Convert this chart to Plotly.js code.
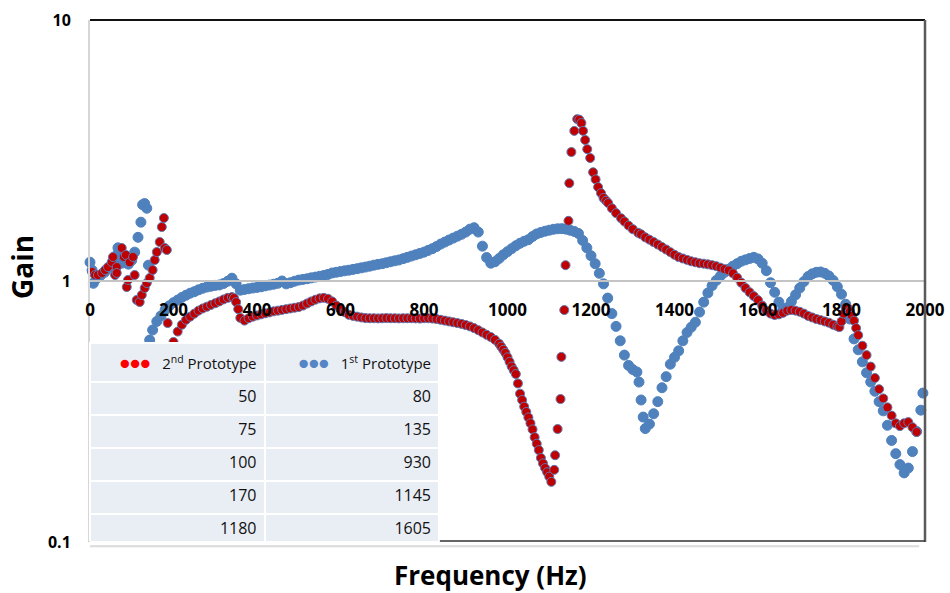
<!DOCTYPE html>
<html>
<head>
<meta charset="utf-8">
<script src="https://cdn.plot.ly/plotly-3.0.1.min.js"></script>
<style>html,body{margin:0;padding:0;background:#fff;}#chart{width:950px;height:593px;}</style>
</head>
<body>
<div id="chart"></div>
<script>
// 1st Prototype (blue)
const freq1st = [
  0,5,8,15,25,35,45,55,62,67,
  72,76,84,92,100,107,115,122,126,131,
  136,140,143,
  150,160,170,180,190,200,210,220,230,240,
  250,260,270,280,290,300,310,320,330,340,
  350,360,370,380,390,400,410,420,430,440,
  450,460,470,480,490,500,510,520,530,540,
  550,560,570,580,590,600,610,620,630,640,
  650,660,670,680,690,700,710,720,730,740,
  750,760,770,780,790,800,810,820,830,840,
  850,860,870,880,890,900,910,920,930,940,
  950,960,970,980,990,1000,1010,1020,1030,1040,
  1050,1060,1070,1080,1090,1100,1110,1120,1130,1140,
  1150,1160,1170,1180,1190,1200,1210,1220,1230,1240,
  1250,1260,1270,1280,1290,1300,1310,
  1315,1320,1325,1330,
  1340,1350,1360,1370,1380,1390,1400,1410,1420,1430,
  1440,1450,1460,1470,1480,1490,1500,1510,1520,1530,
  1540,1550,1560,1570,1580,1590,1600,1610,1620,1630,
  1640,1650,1660,1670,1680,1690,1700,1710,1720,1730,
  1740,1750,1760,1770,1780,1790,1800,1810,1820,1830,
  1840,1850,1860,1870,1880,1890,1900,1910,1920,1930,
  1940,1950,1960,1970,1980,1990,
  1995
];
const gain1st = [
  1.18,1.10,0.98,1.02,1.05,1.08,1.12,1.17,1.25,1.34,
  1.28,1.17,1.22,1.16,1.20,1.29,1.47,1.68,1.96,1.98,
  1.90,1.15,0.594,
  0.649,0.70,0.735,0.775,0.803,0.826,0.845,0.865,0.882,0.898,
  0.910,0.925,0.938,0.948,0.955,0.962,0.966,0.978,0.998,1.025,
  0.975,0.922,0.928,0.934,0.940,0.945,0.950,0.958,0.965,0.972,
  0.980,1.000,0.975,0.985,0.998,1.008,1.014,1.020,1.028,1.035,
  1.042,1.050,1.060,1.073,1.080,1.087,1.094,1.100,1.108,1.115,
  1.123,1.131,1.140,1.150,1.158,1.165,1.175,1.185,1.195,1.204,
  1.218,1.232,1.246,1.260,1.275,1.290,1.310,1.330,1.355,1.385,
  1.410,1.435,1.460,1.485,1.510,1.540,1.580,1.600,1.540,1.360,
  1.230,1.170,1.185,1.220,1.260,1.295,1.330,1.365,1.395,1.420,
  1.440,1.480,1.515,1.535,1.552,1.565,1.578,1.585,1.587,1.580,
  1.565,1.548,1.520,1.430,1.340,1.250,1.165,1.070,0.975,0.860,
  0.750,0.670,0.590,0.520,0.475,0.458,0.448,
  0.410,0.350,0.301,0.272,
  0.283,0.310,0.345,0.390,0.430,0.480,0.510,0.540,0.590,0.635,
  0.665,0.695,0.760,0.830,0.900,0.960,1.005,1.045,1.080,1.110,
  1.140,1.165,1.190,1.205,1.220,1.232,1.215,1.170,1.095,0.985,
  0.905,0.830,0.780,0.790,0.835,0.885,0.940,0.995,1.040,1.065,
  1.080,1.083,1.070,1.045,1.005,0.950,0.890,0.815,0.715,0.600,
  0.545,0.490,0.445,0.410,0.378,0.345,0.318,0.280,0.245,0.218,
  0.198,0.184,0.192,0.222,0.265,0.320,
  0.372
];

// 2nd Prototype (red)
const freq2nd = [
  5,12,19,29,36,43,52,55,60,64,
  64,76,81,86,88,91,95,103,107,112,
  119,124,131,136,143,150,155,160,167,172,
  177,179,184,
  186,200,210,220,230,240,250,260,270,280,
  290,300,310,320,330,340,345,350,355,360,
  370,380,390,400,410,420,430,440,450,460,
  470,480,490,500,510,520,530,540,550,560,
  570,580,590,600,610,620,630,640,650,660,
  670,680,690,700,710,720,730,740,750,760,
  770,780,790,800,810,820,830,840,850,860,
  870,880,890,900,910,920,930,940,950,960,
  970,980,985,990,995,1000,1005,1010,1015,1020,
  1025,1030,1035,1040,1045,1050,1055,1060,1065,1070,
  1075,1080,1085,1090,1095,1100,1105,1112,1114,1120,
  1127,1129,1136,1139,1146,1148,1153,1160,1167,1172,
  1177,1181,1186,1191,1198,1205,1211,1217,1224,1230,
  1236,1241,1250,1260,1272,1280,1290,1300,1313,1320,
  1330,1340,1350,1360,1370,1380,1390,1400,1410,1420,
  1430,1440,1450,1460,1470,1480,1490,1500,1510,1520,
  1530,1540,1550,1560,1570,1580,1590,1600,1610,1620,
  1630,1640,1650,1660,1670,1680,1690,1700,1710,1720,
  1730,1740,1750,1760,1770,1780,1790,1795,1800,1805,
  1810,1815,1820,1825,1830,1835,1840,1850,1860,1870,
  1880,1890,1900,1910,1920,1930,1940,1950,1960,1970,
  1980
];
const gain2nd = [
  1.083,1.054,1.054,1.073,1.102,1.131,1.182,1.236,1.054,1.131,
  1.073,1.338,1.236,1.258,0.948,1.009,1.18,1.236,1.054,0.846,
  0.831,0.884,0.940,0.982,1.027,1.102,1.204,1.291,1.411,1.61,
  1.743,1.338,1.315,
  0.69,0.584,0.64,0.68,0.71,0.73,0.75,0.77,0.785,0.797,
  0.81,0.822,0.835,0.85,0.862,0.868,0.86,0.83,0.78,0.722,
  0.705,0.72,0.73,0.738,0.745,0.752,0.758,0.765,0.77,0.775,
  0.78,0.785,0.79,0.795,0.805,0.82,0.835,0.848,0.858,0.862,
  0.855,0.835,0.805,0.78,0.76,0.742,0.735,0.73,0.725,0.721,
  0.72,0.72,0.719,0.72,0.721,0.72,0.72,0.719,0.72,0.72,
  0.72,0.719,0.718,0.72,0.72,0.718,0.715,0.71,0.705,0.70,
  0.695,0.69,0.685,0.678,0.67,0.66,0.648,0.635,0.622,0.61,
  0.595,0.575,0.56,0.545,0.53,0.51,0.49,0.47,0.455,0.44,
  0.405,0.37,0.35,0.33,0.315,0.30,0.285,0.27,0.252,0.238,
  0.225,0.21,0.2,0.192,0.185,0.178,0.17,0.189,0.215,0.271,
  0.353,0.512,0.774,1.15,1.70,2.37,3.12,3.76,4.17,4.15,
  4.03,3.76,3.47,3.20,2.96,2.61,2.45,2.29,2.17,2.08,
  2.03,1.99,1.90,1.82,1.74,1.69,1.63,1.58,1.53,1.51,
  1.47,1.44,1.41,1.38,1.35,1.32,1.29,1.26,1.235,1.22,
  1.205,1.19,1.18,1.17,1.165,1.158,1.15,1.14,1.125,1.11,
  1.098,1.07,1.03,0.985,0.94,0.905,0.875,0.845,0.805,0.77,
  0.75,0.741,0.745,0.755,0.77,0.774,0.77,0.762,0.75,0.735,
  0.725,0.715,0.708,0.70,0.692,0.68,0.67,0.666,0.70,0.75,
  0.79,0.788,0.765,0.735,0.705,0.66,0.62,0.565,0.52,0.47,
  0.425,0.385,0.355,0.328,0.305,0.285,0.278,0.285,0.288,0.275,
  0.264
];

// Data table (resonance frequencies, Hz)
const tableHeaders = ['2<sup>nd</sup>\u00a0Prototype', '1<sup>st</sup>\u00a0Prototype'];
const res2nd = ['50', '75', '100', '170', '1180'];
const res1st = ['80', '135', '930', '1145', '1605'];

// Axis ticks
const xTicks = [0,200,400,600,800,1000,1200,1400,1600,1800,2000];
const yTicks = [0.1, 1, 10];
const yTickText = ['0.1', '1', '10'];

const FONT = '"Open Sans", Lato, "DejaVu Sans", sans-serif';
const BLUE = '#4f81bd';
const RED = '#c00000';

// legend-like dots in the table header (no plain spaces, so the table does not wrap the markup)
function legendDots(color) {
  return '<a href="#"style="color:' + color + ';font-size:17px;text-decoration:none">●●●</a>\u00a0\u00a0\u00a0';
}

const traces = [
  {
    type: 'scatter', mode: 'markers', name: '1st Prototype',
    x: freq1st, y: gain1st, cliponaxis: false,
    marker: {color: BLUE, size: 10, line: {color: BLUE, width: 1}}
  },
  {
    type: 'scatter', mode: 'markers', name: '2nd Prototype',
    x: freq2nd, y: gain2nd, cliponaxis: false,
    marker: {color: RED, size: 9, line: {color: '#5f78b0', width: 1}}
  },
  {
    type: 'table',
    domain: {x: [0, 0.419], y: [0, 0.381]},
    columnwidth: [175, 175],
    header: {
      values: [legendDots('#ff0000') + tableHeaders[0], legendDots('#5585c5') + tableHeaders[1]],
      align: 'right', height: 33,
      fill: {color: '#e9edf4'},
      line: {color: '#ffffff', width: 2},
      font: {family: FONT, size: 15, color: '#111'}
    },
    cells: {
      values: [res2nd, res1st],
      align: 'right', height: 33,
      fill: {color: '#e9edf4'},
      line: {color: '#ffffff', width: 2},
      font: {family: FONT, size: 16, color: '#111'}
    }
  }
];

const layout = {
  width: 950, height: 593,
  margin: {l: 90, r: 25, t: 20, b: 51},
  paper_bgcolor: '#ffffff', plot_bgcolor: '#ffffff',
  showlegend: false,
  font: {family: FONT, color: '#000'},
  xaxis: {
    range: [0, 2000], anchor: 'free', position: 0.5,
    tickvals: xTicks, ticks: 'outside', ticklen: 14, tickcolor: 'rgba(0,0,0,0)',
    showgrid: false, zeroline: false,
    showline: true, linecolor: '#c4c4c4', linewidth: 2,
    tickfont: {family: FONT, size: 17, color: '#000', weight: 'bold'}
  },
  yaxis: {
    type: 'log', range: [-1, 1],
    tickvals: yTicks, ticktext: yTickText,
    ticks: 'outside', ticklen: 14, tickcolor: 'rgba(0,0,0,0)',
    showgrid: false, zeroline: false,
    showline: true, linecolor: '#d6d6d6', linewidth: 2,
    tickfont: {family: FONT, size: 16, color: '#000', weight: 'bold'}
  },
  annotations: [
    {
      text: 'Frequency (Hz)', xref: 'paper', yref: 'paper',
      x: 0.48, y: -0.063, xanchor: 'center', yanchor: 'middle', showarrow: false,
      font: {family: FONT, size: 26, color: '#000', weight: 'bold'}
    },
    {
      text: 'Gain', xref: 'paper', yref: 'paper', textangle: -90,
      x: -0.0814, y: 0.527, xanchor: 'center', yanchor: 'middle', showarrow: false,
      font: {family: FONT, size: 28, color: '#000', weight: 'bold'}
    }
  ],
  shapes: [
    {type: 'line', xref: 'paper', yref: 'paper', x0: 0, x1: 1, y0: 1, y1: 1, line: {color: '#111', width: 2}},
    {type: 'line', xref: 'paper', yref: 'paper', x0: 1, x1: 1, y0: 0, y1: 1, line: {color: '#5a5a5a', width: 2.5}},
    {type: 'line', xref: 'paper', yref: 'paper', x0: 0.419, x1: 1, y0: 0.002, y1: 0.002, line: {color: '#333', width: 1.5}},
    {type: 'line', xref: 'paper', yref: 'paper', x0: 0, x1: 0.993, y0: -0.008, y1: -0.008, line: {color: '#dadada', width: 2}}
  ]
};

Plotly.newPlot('chart', traces, layout, {staticPlot: true, displayModeBar: false});
</script>
</body>
</html>
